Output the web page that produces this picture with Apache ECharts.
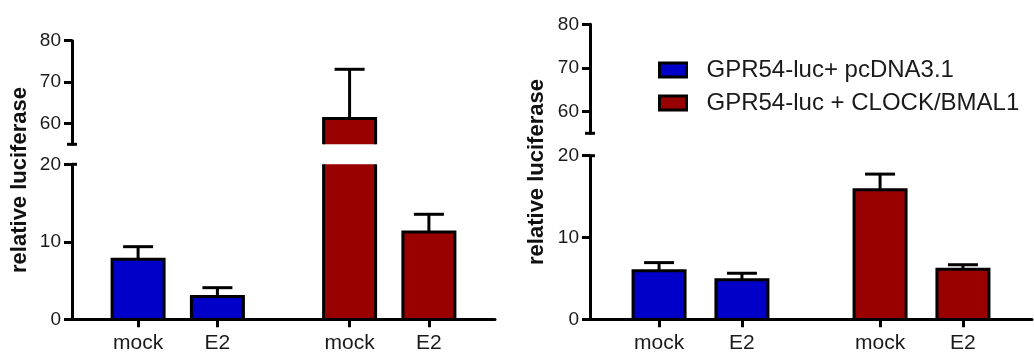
<!DOCTYPE html>
<html>
<head>
<meta charset="utf-8">
<script src="https://cdn.jsdelivr.net/npm/echarts@6/dist/echarts.min.js"></script>
<style>
  html, body { margin: 0; padding: 0; background: #fff; }
  #chart { width: 1034px; height: 356px; }
</style>
</head>
<body>
<div id="chart"></div>
<script>
// ---------------- data ----------------
const categories = ['mock', 'E2', 'mock', 'E2'];
const groupNames = ['GPR54-luc+ pcDNA3.1', 'GPR54-luc + CLOCK/BMAL1'];
const barGroup = [0, 0, 1, 1];

const leftMeans  = [7.75, 2.95, 61.2, 11.25];
const leftErrors = [1.62, 1.13, 11.9, 2.3];

const rightMeans  = [5.95, 4.85, 15.85, 6.12];
const rightErrors = [0.98, 0.78, 1.9, 0.55];

const yTicksUpper = [60, 70, 80];
const yTicksLower = [0, 10, 20];
const yAxisTitle = 'relative luciferase';

// ---------------- layout / style ----------------
const FONT = 'Liberation Sans, Arial, sans-serif';
const COLORS = ['#0000C8', '#990000'];
const SLOT_COUNT = 16;
const SLOT_INDEX = [2, 5, 10, 13];
const BAR_HALF = 26;   // px, half width to stroke centre
const CAP_HALF = 15;   // px
const LW = 3;

const segments = {
  upper: { min: 55, max: 80 },
  lower: { min: 0, max: 20 }
};

const panels = [
  { means: leftMeans, errors: leftErrors,
    upper: { left: 72, top: 40.7, width: 423, height: 103.6 },
    lower: { left: 72, top: 164.3, width: 423, height: 155 },
    title: { x: 20, y: 180 } },
  { means: rightMeans, errors: rightErrors,
    upper: { left: 590, top: 24.3, width: 442, height: 109 },
    lower: { left: 590, top: 155.7, width: 442, height: 163.6 },
    title: { x: 537, y: 172 } }
];

const slotLabels = [];
for (let i = 0; i < SLOT_COUNT; i++) slotLabels.push('');
SLOT_INDEX.forEach((s, i) => { slotLabels[s] = categories[i]; });

function makeBarRenderer(seg, color) {
  return function (params, api) {
    const x = api.value(0), v = api.value(1), e = api.value(2);
    const children = [];
    const cx = api.coord([x, seg.min])[0];
    const L = cx - BAR_HALF, R = cx + BAR_HALF;
    if (v > seg.min) {
      const yT = api.coord([x, Math.min(v, seg.max)])[1];
      const yB = api.coord([x, seg.min])[1];
      children.push({ type: 'rect', shape: { x: L, y: yT, width: R - L, height: yB - yT },
        style: { fill: color } });
      if (v <= seg.max) {
        children.push({ type: 'polyline', shape: { points: [[L, yB], [L, yT], [R, yT], [R, yB]] },
          style: { stroke: '#000', lineWidth: LW, fill: null, lineJoin: 'miter' } });
      } else {
        children.push({ type: 'line', shape: { x1: L, y1: yT, x2: L, y2: yB },
          style: { stroke: '#000', lineWidth: LW } });
        children.push({ type: 'line', shape: { x1: R, y1: yT, x2: R, y2: yB },
          style: { stroke: '#000', lineWidth: LW } });
      }
    }
    const t = v + e;
    const lo = Math.max(v, seg.min), hi = Math.min(t, seg.max);
    if (hi > lo) {
      const y1 = api.coord([x, lo])[1], y2 = api.coord([x, hi])[1];
      children.push({ type: 'line', shape: { x1: cx, y1: y1, x2: cx, y2: y2 },
        style: { stroke: '#000', lineWidth: LW } });
    }
    if (t <= seg.max && t >= seg.min) {
      const yc = api.coord([x, t])[1];
      children.push({ type: 'line', shape: { x1: cx - CAP_HALF, y1: yc, x2: cx + CAP_HALF, y2: yc },
        style: { stroke: '#000', lineWidth: LW } });
    }
    return { type: 'group', children: children };
  };
}

function makeCapRenderer(kind) {
  return function (params, api) {
    const p = api.coord([0, api.value(1)]);
    const ax = p[0] - api.size([1, 0])[0] / 2;
    const x1 = kind === 'upper' ? ax - 5 : ax;
    return { type: 'line', shape: { x1: x1, y1: p[1], x2: ax + 5, y2: p[1] },
      style: { stroke: '#000', lineWidth: LW } };
  };
}

const grids = [], xAxes = [], yAxes = [], series = [], graphics = [];

panels.forEach((panel, pi) => {
  ['upper', 'lower'].forEach(kind => {
    const gi = grids.length;
    const seg = segments[kind];
    grids.push(Object.assign({ containLabel: false }, panel[kind]));
    const isLower = kind === 'lower';
    xAxes.push({
      type: 'category', gridIndex: gi, data: slotLabels, boundaryGap: true, z: 10,
      show: isLower,
      axisLine: { show: isLower, lineStyle: { color: '#000', width: LW } },
      axisTick: { show: isLower, alignWithLabel: true, length: 8,
        interval: (idx, val) => val !== '', lineStyle: { color: '#000', width: LW } },
      axisLabel: { show: isLower, interval: (idx, val) => val !== '', margin: 13,
        color: '#1a1a1a', fontFamily: FONT, fontSize: 21 },
      splitLine: { show: false }
    });
    yAxes.push({
      type: 'value', gridIndex: gi, min: seg.min, max: seg.max,
      interval: isLower ? 10 : 5,
      axisLine: { show: true, lineStyle: { color: '#000', width: LW } },
      axisTick: { show: true, length: 8, lineStyle: { color: '#000', width: LW },
        customValues: isLower ? yTicksLower : yTicksUpper },
      axisLabel: { margin: 11, color: '#1a1a1a', fontFamily: FONT, fontSize: 19,
        customValues: isLower ? yTicksLower : yTicksUpper },
      splitLine: { show: false }
    });
    [0, 1].forEach(g => {
      const data = [];
      panel.means.forEach((m, i) => {
        if (barGroup[i] === g) data.push([SLOT_INDEX[i], m, panel.errors[i]]);
      });
      series.push({
        type: 'custom', name: groupNames[g], xAxisIndex: gi, yAxisIndex: gi,
        clip: false, z: 3,
        itemStyle: { color: COLORS[g], borderColor: '#000', borderWidth: LW },
        renderItem: makeBarRenderer(seg, COLORS[g]),
        encode: { x: 0, y: 1 },
        data: data
      });
    });
    series.push({
      type: 'custom', xAxisIndex: gi, yAxisIndex: gi, clip: false, z: 11,
      renderItem: makeCapRenderer(kind), silent: true,
      data: [[0, isLower ? seg.max : seg.min]]
    });
  });
  graphics.push({
    type: 'text', x: panel.title.x, y: panel.title.y, rotation: Math.PI / 2,
    style: { text: yAxisTitle, fill: '#111', font: 'bold 22px ' + FONT,
      textAlign: 'center', textVerticalAlign: 'middle' }
  });
});

const chart = echarts.init(document.getElementById('chart'), null, { renderer: 'canvas' });
chart.setOption({
  animation: false,
  backgroundColor: '#fff',
  grid: grids,
  xAxis: xAxes,
  yAxis: yAxes,
  legend: {
    orient: 'vertical', left: 658, top: 58, padding: 0, itemGap: 9,
    itemWidth: 27, itemHeight: 14, selectedMode: false,
    textStyle: { fontFamily: FONT, fontSize: 24, color: '#1a1a1a', padding: [0, 0, 0, 15] },
    data: groupNames.map((n, g) => ({
      name: n, icon: 'rect',
      itemStyle: { color: COLORS[g], borderColor: '#000', borderWidth: LW }
    }))
  },
  graphic: graphics,
  series: series
});
</script>
</body>
</html>
